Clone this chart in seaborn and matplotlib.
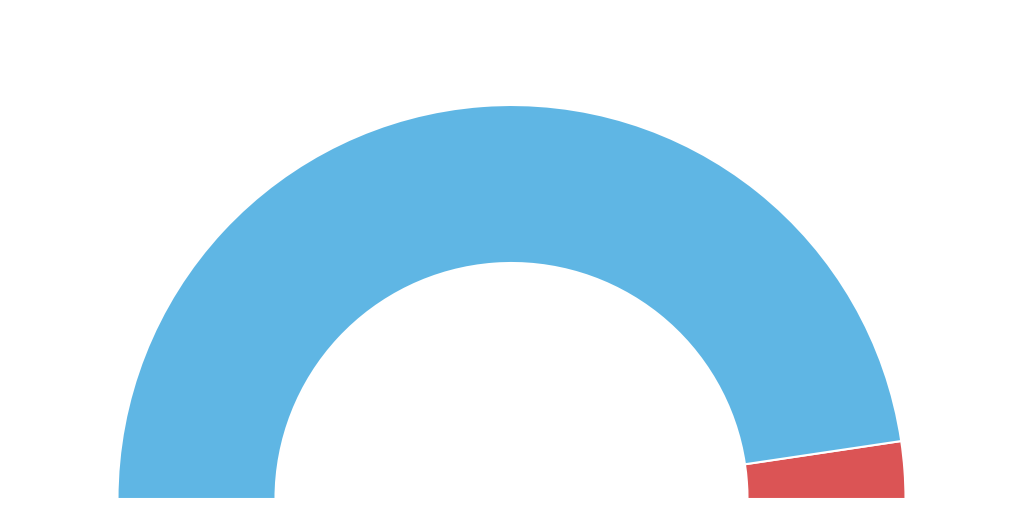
import matplotlib
matplotlib.use("Agg")
import matplotlib.pyplot as plt
import seaborn as sns

sns.set_theme(style="white")

labels = ["Red", "Blue"]
values = [4.7, 95.3]
colors = ["#db5455", "#5fb6e4"]

fig = plt.figure(figsize=(10.24, 5.12), dpi=100)
ax = fig.add_axes([0, 0, 1, 1])

total = sum(values)
wedges, _ = ax.pie(
    values + [total],
    colors=colors + ["none"],
    startangle=0,
    counterclock=True,
    radius=394,
    center=(511.5, 13),
    wedgeprops=dict(width=158, edgecolor="white", linewidth=1.5),
    frame=True,
)
wedges[-1].set_edgecolor("none")
ax.set_xlim(0, 1024)
ax.set_ylim(0, 512)
ax.set_aspect("equal")
ax.axis("off")

fig.savefig("out.png", dpi=100, facecolor="white")
